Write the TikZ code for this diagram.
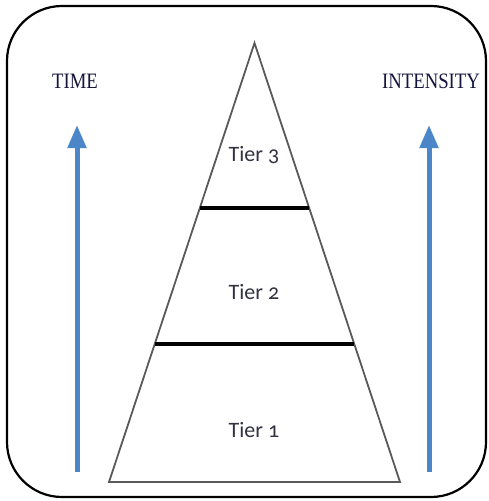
\documentclass[tikz,border=0pt]{standalone}
\usepackage{fontspec}
\setmainfont{Liberation Serif}
\newfontfamily\tierfont[Numbers=OldStyle]{Carlito}
\usetikzlibrary{arrows.meta,calc}
\definecolor{arrowblue}{RGB}{74,134,200}
\definecolor{labelnavy}{RGB}{20,20,60}
\definecolor{tiergray}{RGB}{50,50,65}

\begin{document}
\begin{tikzpicture}[x=1pt,y=-1pt,
  axislabel/.style={font=\fontsize{22}{22}\selectfont, text=labelnavy, xscale=0.85},
  tierlabel/.style={font=\tierfont\fontsize{22}{22}\selectfont, text=tiergray},
  riser/.style={arrowblue, line width=5pt, -{Triangle[width=18pt,length=23pt]}}]
  \useasboundingbox (0,0) rectangle (489,501);

  % Draw frame
  \draw [line width=2.2pt, rounded corners=55pt] (7,6) rectangle (486,497);

  % Draw pyramid
  \coordinate (apex) at (254.5,43);
  \coordinate (baseL) at (109,482);
  \coordinate (baseR) at (400,482);
  \draw [black!65, line width=1.8pt] (apex) -- (baseR) -- (baseL) -- cycle;

  % Tier dividers
  \draw [line width=4pt] ($(apex)!0.376!(baseL)$) -- ($(apex)!0.376!(baseR)$);
  \draw [line width=4pt] ($(apex)!0.686!(baseL)$) -- ($(apex)!0.686!(baseR)$);

  % Tier labels
  \node [tierlabel] (tier3) at (254,155) {Tier 3};
  \node [tierlabel] (tier2) at (254,292) {Tier 2};
  \node [tierlabel] (tier1) at (254,430) {Tier 1};

  % Side arrows
  \node [axislabel] (time) at (75,81) {TIME};
  \node [axislabel] (intensity) at (431,81) {INTENSITY};
  \coordinate (timefoot) at (77,472);
  \coordinate (timetop) at (77,125);
  \coordinate (intensityfoot) at (429,472);
  \coordinate (intensitytop) at (429,125);
  \draw [riser] (timefoot) -- (timetop);
  \draw [riser] (intensityfoot) -- (intensitytop);
\end{tikzpicture}
\end{document}
